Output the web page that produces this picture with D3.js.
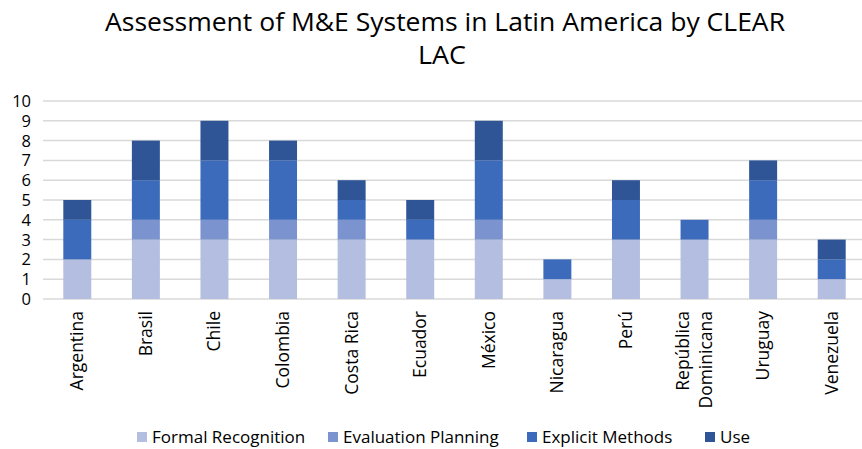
<!DOCTYPE html>
<html>
<head>
<meta charset="utf-8">
<script src="https://cdn.jsdelivr.net/npm/d3@7"></script>
<style>
body{margin:0;background:#fff}
text{font-family:"Open Sans",sans-serif;fill:#000}
</style>
</head>
<body>
<div id="chart"></div>
<script>
var countries = ["Argentina","Brasil","Chile","Colombia","Costa Rica","Ecuador","México","Nicaragua","Perú","República Dominicana","Uruguay","Venezuela"]
var seriesNames = ["Formal Recognition","Evaluation Planning","Explicit Methods","Use"]
var formalRecognition = [2,3,3,3,3,3,3,1,3,3,3,1]
var evaluationPlanning = [0,1,1,1,1,0,1,0,0,0,1,0]
var explicitMethods = [2,2,3,3,1,1,3,1,2,1,2,1]
var use = [1,2,2,1,1,1,2,0,1,0,1,1]
var yTicks = [0,1,2,3,4,5,6,7,8,9,10]
var colors = ["#b4bee0","#7b93cf","#3d6bbb","#2f5597"]

var w = 862
var h = 449
var plotLeft = 43, plotRight = 866, plotTop = 101, plotBottom = 299

var svg = d3.select("#chart").append("svg").attr("width",w).attr("height",h)

//title
svg.append("text").attr("x",445).attr("y",31).attr("text-anchor","middle")
    .style("font-size","25px").attr("textLength",680).attr("lengthAdjust","spacingAndGlyphs")
    .text("Assessment of M&E Systems in Latin America by CLEAR")
svg.append("text").attr("x",442).attr("y",64).attr("text-anchor","middle")
    .style("font-size","25px").attr("textLength",48).attr("lengthAdjust","spacingAndGlyphs")
    .text("LAC")

var xScale = d3.scaleBand().domain(countries).range([plotLeft,plotRight]).paddingInner(0.592).paddingOuter(0.296)
var yScale = d3.scaleLinear().domain([0,10]).range([plotBottom,plotTop])

//gridlines
svg.selectAll(".grid").data(yTicks).enter().append("line")
    .attr("class","grid")
    .attr("x1",plotLeft).attr("x2",plotRight)
    .attr("y1",function(d){return yScale(d)})
    .attr("y2",function(d){return yScale(d)})
    .attr("stroke","#d9d9d9").attr("stroke-width",1.5)

svg.selectAll(".ylabel").data(yTicks).enter().append("text")
    .attr("class","ylabel")
    .attr("x",31).attr("y",function(d){return yScale(d)+6})
    .attr("text-anchor","end").style("font-size","16.5px")
    .text(function(d){return d})

//stack
var rows = countries.map(function(c,i){
    return {country:c,s0:formalRecognition[i],s1:evaluationPlanning[i],s2:explicitMethods[i],s3:use[i]}
})
var stack = d3.stack().keys(["s0","s1","s2","s3"])(rows)

svg.selectAll(".layer").data(stack).enter().append("g")
    .attr("class","layer")
    .attr("fill",function(d,i){return colors[i]})
    .selectAll("rect").data(function(d){return d}).enter().append("rect")
    .attr("x",function(d){return xScale(d.data.country)})
    .attr("width",xScale.bandwidth())
    .attr("y",function(d){return yScale(d[1])})
    .attr("height",function(d){return yScale(d[0])-yScale(d[1])})

//category labels
var labels = svg.selectAll(".xlabel").data(countries).enter().append("text")
    .attr("class","xlabel")
    .attr("transform",function(d){
        return "translate("+(xScale(d)+xScale.bandwidth()/2)+",311) rotate(-90)"
    })
    .attr("text-anchor","end").style("font-size","17.5px")
labels.each(function(d){
    var parts = d=="República Dominicana" ? ["República","Dominicana"] : [d]
    var t = d3.select(this)
    parts.forEach(function(p,i){
        t.append("tspan").attr("x",0)
            .attr("y",(i-(parts.length-1)/2)*23+6)
            .text(p)
    })
})

//legend
var legendX = [137,328,527,705]
var legend = svg.selectAll(".legend").data(seriesNames).enter().append("g")
    .attr("class","legend")
    .attr("transform",function(d,i){return "translate("+legendX[i]+",432)"})
legend.append("rect").attr("width",10).attr("height",10).attr("fill",function(d,i){return colors[i]})
legend.append("text").attr("x",15).attr("y",11).style("font-size","17px").text(function(d){return d})
</script>
</body>
</html>
